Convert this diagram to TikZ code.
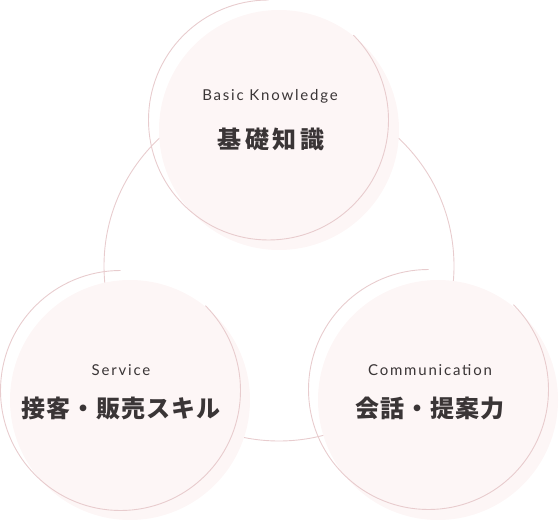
\documentclass[tikz,border=0pt]{standalone}
\usepackage{fontspec}
\setmainfont{Lato}
\newfontfamily\jpfont[LetterSpace=4]{Noto Sans CJK JP}
\newfontfamily\enfont[LetterSpace=12]{Lato}
\definecolor{ballfill}{HTML}{FDF6F6}
\definecolor{ballline}{HTML}{E8CCCE}
\definecolor{inktext}{HTML}{3A3536}

\begin{document}
\begin{tikzpicture}[x = 1pt, y = -1pt]
	\tikzstyle{ballStyle} = [shape = circle, minimum size = 240pt, inner sep = 0pt, fill = ballfill]
	\tikzstyle{ringStyle} = [draw = ballline, line width = 0.9pt]
	\tikzstyle{enStyle} = [font = \enfont\fontsize{15}{16}\selectfont, text = inktext, inner sep = 0pt]
	\tikzstyle{jpStyle} = [font = \jpfont\bfseries\fontsize{24}{25}\selectfont, text = inktext, inner sep = 0pt]
	\useasboundingbox (0,0) rectangle (559,521);
	% big ring behind the three balls
	\node[shape = circle, minimum size = 350pt, inner sep = 0pt, draw = ballline, line width = 0.9pt] (ring) at (279,266) {};
	\node[ballStyle] (b0) at (279,130) {};
	\node[ballStyle] (b1) at (130,400) {};
	\node[ballStyle] (b2) at (438,400) {};
	% open rings, gap at the upper right
	\draw[ringStyle] ([shift = {(-45:120)}] 268.5,120) arc[start angle = -45, end angle = 270, radius = 120];
	\draw[ringStyle] ([shift = {(-45:120)}] 120.5,390.5) arc[start angle = -45, end angle = 270, radius = 120];
	\draw[ringStyle] ([shift = {(-45:120)}] 428.5,389.5) arc[start angle = -45, end angle = 270, radius = 120];
	\node[enStyle] (e0) at (270,96) {Basic Knowledge};
	\node[jpStyle, font = \jpfont\bfseries\fontsize{24}{25}\selectfont\addfontfeature{LetterSpace=14}] (j0) at (271,139) {基礎知識};
	\node[enStyle] (e1) at (121,370) {Service};
	\node[jpStyle] (j1) at (121,408) {接客・販売スキル};
	\node[enStyle] (e2) at (430,370) {Communication};
	\node[jpStyle] (j2) at (430,408) {会話・提案力};
\end{tikzpicture}
\end{document}
